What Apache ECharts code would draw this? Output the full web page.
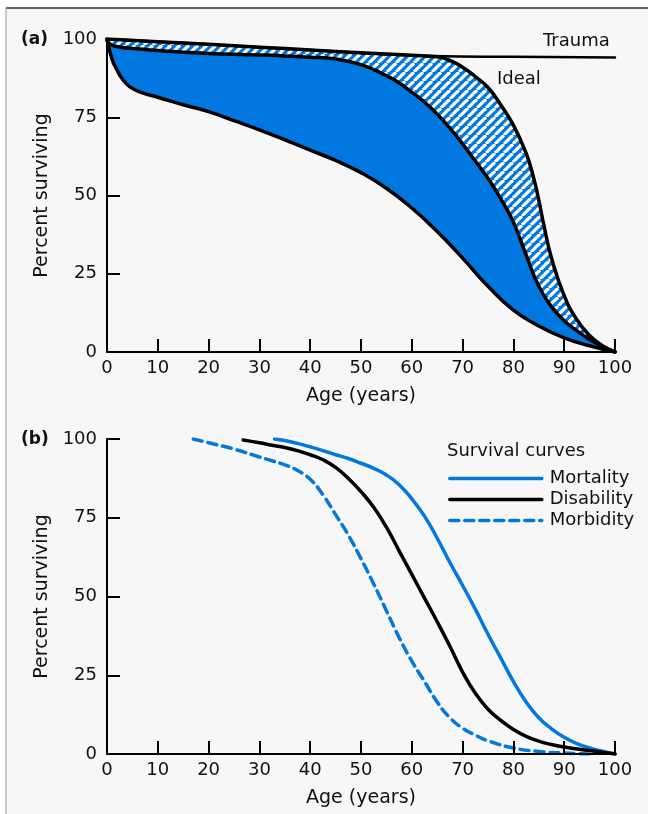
<!DOCTYPE html>
<html>
<head>
<meta charset="utf-8">
<script src="https://cdn.jsdelivr.net/npm/echarts@6/dist/echarts.min.js"></script>
<style>
html,body{margin:0;padding:0;background:#ffffff;}
#c{width:648px;height:814px;}
</style>
</head>
<body>
<div id="c"></div>
<script>
// ---------- Panel (a) data: [age, percent surviving] ----------
const trauma = [[0,100],[20,98.3],[40,96.5],[64,94.6],[80,94.3],[100,94.1]];
const ideal = [[0,100],[10,99.1],[20,98.3],[30,97.4],[40,96.5],[50,95.6],[60,94.8],[65,94.3],[67.5,93.2],[70,91],[72.5,88],[75,84.5],[77.5,79],[80,72.5],[82.5,63.5],[84,55.5],[85,48.5],[86,40.5],[87.5,30],[90,18],[92.5,10.3],[95,5.3],[97.5,2],[100,0]];
const y1980 = [[0,99.5],[1,98],[3,97.3],[6.5,96.8],[10,96.3],[15,95.8],[20,95.4],[25,95.1],[30,94.9],[35,94.6],[40,94.2],[45,93.6],[50,91.8],[55,88.3],[57.5,86],[60,83],[62.5,79.8],[65,76],[67.5,71.5],[70,66.5],[72.5,61],[75,55.5],[77.5,49],[80,41.5],[82.5,31],[85,21],[87.5,14.5],[90,10],[92.5,6.8],[95,4],[97.5,1.8],[100,0]];
const y1900 = [[0,100],[1,93.5],[2,90],[3,87.3],[4.5,84.7],[7,82.8],[10,81.4],[15,79],[20,76.8],[25,73.9],[30,71],[35,67.8],[40,64.5],[45,61.2],[50,57.3],[55,52.3],[60,46],[65,38.5],[70,30],[75,21],[80,13.4],[85,8.3],[90,4.5],[95,2],[100,0]];
// ---------- Panel (b) data ----------
const mortality = [[33,100],[35,99.5],[37.5,98.6],[40,97.5],[42.5,96.3],[45,95],[47.5,93.8],[50,92.3],[52.5,90.7],[55,88.6],[57.5,85.5],[60,81],[62.5,75.5],[65,68.5],[67.5,60.8],[70,53.5],[72.5,46],[75,38],[77.5,30.5],[80,23],[82.5,16.5],[85,11.5],[87.5,8],[90,5.3],[92.5,3.3],[95,1.9],[97.5,0.9],[100,0]];
const disability = [[26.8,99.7],[30,98.8],[32.5,98],[35,97.3],[37.5,96.3],[40,95],[42.5,93.4],[45,91],[47.5,87.5],[50,83.3],[52.5,78.3],[55,72],[57.5,64.5],[60,57],[62.5,49.5],[65,42],[67.5,34.2],[70,26],[72.5,19.3],[75,14.2],[77.5,10.7],[80,7.8],[82.5,5.6],[85,4.1],[87.5,3],[90,2.2],[95,1.1],[100,0]];
const morbidity = [[17,100],[20,98.8],[25,96.8],[30,94.3],[32.5,93.1],[35,91.8],[37.5,90],[40,87.2],[42.5,82.3],[45,76],[47.5,69.5],[50,62],[52.5,54],[55,45.5],[57.5,37],[60,29.5],[62.5,23],[65,16.5],[67.5,11.5],[70,8.2],[72.5,6],[75,4.2],[80,1.9],[85,0.8],[90,0.3],[95,0]];
const xTicks = [0,10,20,30,40,50,60,70,80,90,100];
const yTicks = [0,25,50,75,100];
const legendNames = ['Mortality','Disability','Morbidity'];

const BLUE = '#0078e0';
const BG = '#f7f7f7';
const FONT = 'DejaVu Sans';

// hatch pattern
const N = 9;
const pc = document.createElement('canvas');
pc.width = N; pc.height = N;
const ctx = pc.getContext('2d');
ctx.fillStyle = BLUE; ctx.fillRect(0,0,N,N);
ctx.strokeStyle = '#ffffff'; ctx.lineWidth = 3.2;
for (const o of [-N,0,N]) { ctx.beginPath(); ctx.moveTo(o, N); ctx.lineTo(o+N, 0); ctx.stroke(); }

const chart = echarts.init(document.getElementById('c'), null, {renderer:'canvas'});

function xAx(gi){
  return {type:'value', gridIndex:gi, min:0, max:100, interval:10, z:10,
    name:'Age (years)', nameLocation:'middle', nameGap:35,
    nameTextStyle:{fontFamily:FONT, fontSize:19, color:'#111'},
    axisLine:{show:true, onZero:false, lineStyle:{color:'#000', width:2}},
    axisTick:{show:true, inside:true, length:13, lineStyle:{color:'#000', width:2}},
    axisLabel:{fontFamily:FONT, fontSize:18, color:'#111', margin:7,
      formatter:v=> xTicks.includes(v)? String(v):''},
    splitLine:{show:false}};
}
function yAx(gi){
  return {type:'value', gridIndex:gi, min:0, max:100, interval:25, z:10,
    name:'Percent surviving', nameLocation:'middle', nameGap:46,
    nameTextStyle:{fontFamily:FONT, fontSize:19, color:'#111'},
    axisLine:{show:true, lineStyle:{color:'#000', width:2}},
    axisTick:{show:true, inside:true, length:13, lineStyle:{color:'#000', width:2}},
    axisLabel:{fontFamily:FONT, fontSize:18, color:'#111', margin:10,
      formatter:v=> yTicks.includes(v)? String(v):''},
    splitLine:{show:false}};
}
const common = {type:'line', smooth:0.5, symbol:'none', showSymbol:false, silent:true};
function areaS(data, color){
  return Object.assign({}, common, {xAxisIndex:0, yAxisIndex:0, data, z:1,
    lineStyle:{width:0, opacity:0}, areaStyle:{color, opacity:1}});
}
function lineS(data, w, gi, color, type, name){
  const s = Object.assign({}, common, {xAxisIndex:gi, yAxisIndex:gi, data, z:3,
    lineStyle:{color, width:w, type:type||'solid', cap:'round', join:'round'}, itemStyle:{color}});
  if (name) s.name = name;
  return s;
}

const txt = (t, x, y, extra) => Object.assign({type:'text', left:x, top:y,
  style:{text:t, fontFamily:FONT, fontSize:18, fill:'#111'}}, extra||{});

chart.setOption({
  animation:false,
  backgroundColor:'#ffffff',
  grid:[
    {left:107, right:33, top:39, bottom:462},
    {left:107, right:33, top:439, bottom:60}
  ],
  xAxis:[xAx(0), xAx(1)],
  yAxis:[yAx(0), yAx(1)],
  legend:{
    data:legendNames, orient:'vertical', left:448, top:468, padding:0,
    itemWidth:92, itemHeight:14, itemGap:0, selectedMode:false,
    itemStyle:{opacity:0},
    lineStyle:{width:3.5},
    textStyle:{fontFamily:FONT, fontSize:18, color:'#111', lineHeight:21, padding:[0,0,0,3]}
  },
  graphic:[
    {type:'rect', shape:{x:6, y:8, width:642, height:806}, style:{fill:BG}, z:-10, silent:true},
    {type:'line', shape:{x1:6, y1:8, x2:648, y2:8}, style:{stroke:'#333', lineWidth:1.5}, z:-9},
    {type:'line', shape:{x1:6, y1:8, x2:6, y2:814}, style:{stroke:'#999', lineWidth:1}, z:-9},
    {type:'text', left:21, top:31, style:{text:'(a)', fontFamily:FONT, fontSize:17, fontWeight:'bold', fill:'#111'}},
    {type:'text', left:21, top:431, style:{text:'(b)', fontFamily:FONT, fontSize:17, fontWeight:'bold', fill:'#111'}},
    txt('Trauma', 543, 32),
    txt('Ideal', 497, 70),
    txt('1980', 415, 136),
    txt('1900', 340, 203),
    txt('Survival curves', 447, 442)
  ],
  series:[
    areaS(ideal, {image:pc, repeat:'repeat'}),
    areaS(y1980, BLUE),
    areaS(y1900, BG),
    lineS(trauma, 2.5, 0, '#000'),
    lineS(ideal, 3.5, 0, '#000'),
    lineS(y1980, 3.5, 0, '#000'),
    lineS(y1900, 3.5, 0, '#000'),
    lineS(mortality, 3.5, 1, BLUE, 'solid', 'Mortality'),
    lineS(disability, 3.5, 1, '#000', 'solid', 'Disability'),
    lineS(morbidity, 3.5, 1, BLUE, [9,6], 'Morbidity')
  ]
});
</script>
</body>
</html>
